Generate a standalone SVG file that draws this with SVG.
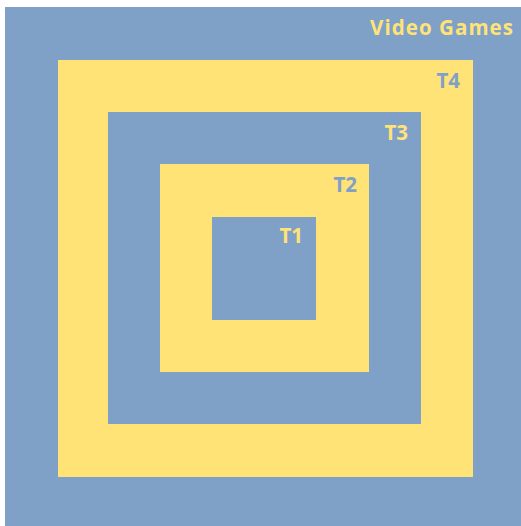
<svg xmlns="http://www.w3.org/2000/svg" width="521" height="526" viewBox="0 0 521 526">
<style>
.b{fill:#7fa1c8}
.y{fill:#ffe377}
text{font-family:"Open Sans","Liberation Sans",sans-serif;font-weight:bold;font-size:20.5px;text-anchor:end}
.ty{fill:#ffe377}
.tb{fill:#7fa1c8}
</style>
<rect width="521" height="526" fill="#ffffff"/>
<g id="video-games"><rect class="b" x="5" y="7" width="516" height="519"/><text class="ty" x="513" y="35" textLength="143" lengthAdjust="spacing">Video Games</text></g>
<g id="t4"><rect class="y" x="58" y="60" width="415" height="417"/><text class="tb" x="460" y="88">T4</text></g>
<g id="t3"><rect class="b" x="108" y="112" width="313" height="312"/><text class="ty" x="408" y="140">T3</text></g>
<g id="t2"><rect class="y" x="160" y="164" width="209" height="208"/><text class="tb" x="357" y="192">T2</text></g>
<g id="t1"><rect class="b" x="212" y="217" width="104" height="103"/><text class="ty" x="303" y="243">T1</text></g>
<g id="connectors"/>
</svg>
